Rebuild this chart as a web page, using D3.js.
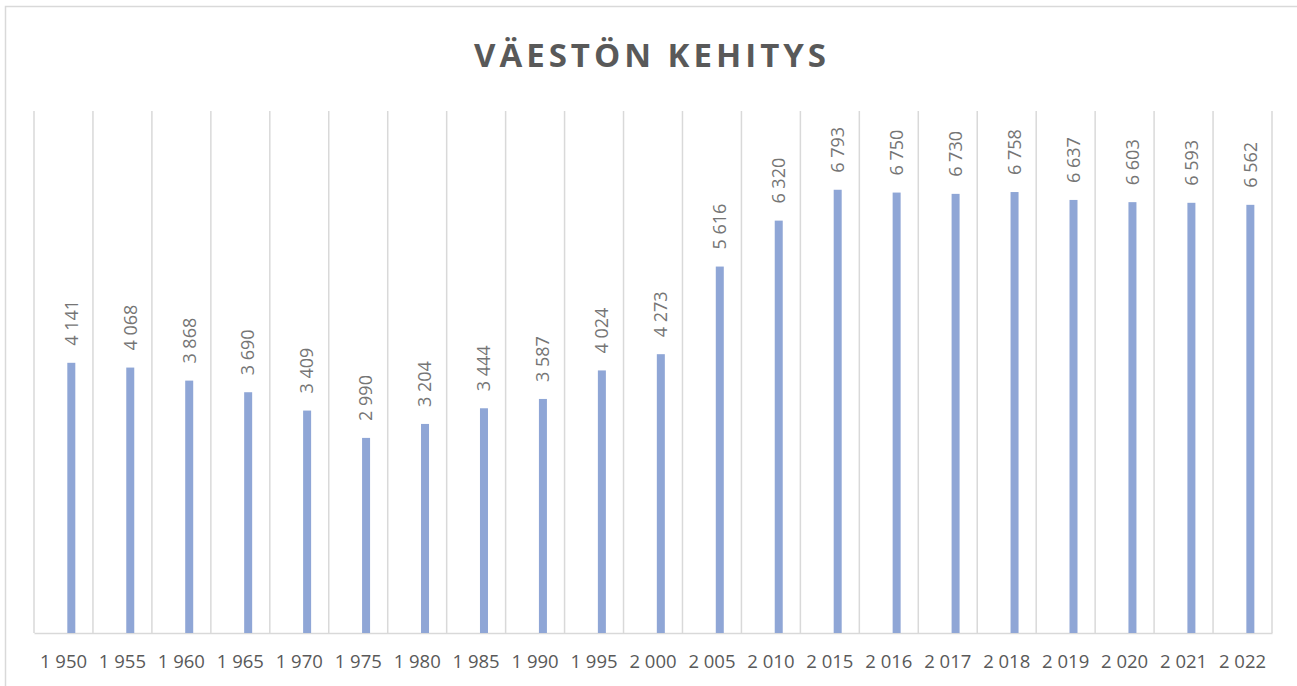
<!DOCTYPE html>
<html>
<head>
<meta charset="utf-8">
<script src="https://cdn.jsdelivr.net/npm/d3@7"></script>
<style>
  html, body { margin: 0; padding: 0; background: #fff; }
  svg { display: block; }
</style>
</head>
<body>
<svg id="chart" width="1297" height="686"></svg>
<script>
const years = ["1 950","1 955","1 960","1 965","1 970","1 975","1 980","1 985","1 990","1 995","2 000","2 005","2 010","2 015","2 016","2 017","2 018","2 019","2 020","2 021","2 022"];
const population = [4141,4068,3868,3690,3409,2990,3204,3444,3587,4024,4273,5616,6320,6793,6750,6730,6758,6637,6603,6593,6562];
const yDomain = [0, 8000];
const title = "VÄESTÖN KEHITYS";

const svg = d3.select("#chart");
const W = 1297, H = 686;
const plot = {left: 34, right: 1272, top: 111, bottom: 633};

// chart frame
svg.append("rect").attr("x", 5.5).attr("y", 6.5).attr("width", W + 10).attr("height", H + 10)
  .attr("fill", "none").attr("stroke", "#D9D9D9").attr("stroke-width", 1.5);

svg.append("text").attr("x", 652).attr("y", 67)
  .attr("text-anchor", "middle")
  .attr("font-family", "'Open Sans', sans-serif").attr("font-weight", 700)
  .attr("font-size", 33).attr("letter-spacing", 4)
  .attr("fill", "#595959").text(title);

const x = d3.scaleBand().domain(years).range([plot.left, plot.right]).paddingInner(0).paddingOuter(0);
const y = d3.scaleLinear().domain(yDomain).range([plot.bottom, plot.top]);

// vertical gridlines at band boundaries
const bounds = years.map(d => x(d)).concat([x(years[years.length - 1]) + x.bandwidth()]);
svg.append("g").selectAll("line").data(bounds).join("line")
  .attr("x1", d => d).attr("x2", d => d)
  .attr("y1", plot.top).attr("y2", plot.bottom)
  .attr("stroke", "#D9D9D9").attr("stroke-width", 1.5);

// x axis
const xAxis = svg.append("g").attr("transform", `translate(0,${plot.bottom})`)
  .call(d3.axisBottom(x).tickSize(0).tickPadding(22));
xAxis.select(".domain").attr("stroke", "#D9D9D9").attr("stroke-width", 1.5);
xAxis.selectAll("text").attr("font-family", "'Open Sans', sans-serif")
  .attr("font-size", 18.5).attr("fill", "#595959");

const barW = 8;
const barOffset = x.bandwidth() * 0.565;
const fmt = v => d3.format(",")(v).replace(/,/g, " ");

svg.append("g").selectAll("rect").data(population).join("rect")
  .attr("x", (d, i) => x(years[i]) + barOffset)
  .attr("y", d => y(d))
  .attr("width", barW)
  .attr("height", d => y(0) - y(d))
  .attr("fill", "#8FA6D6");

svg.append("g").selectAll("text").data(population).join("text")
  .attr("transform", (d, i) => `translate(${x(years[i]) + barOffset + barW / 2},${y(d) - 17}) rotate(-90)`)
  .attr("dy", "0.35em")
  .attr("text-anchor", "start")
  .attr("font-family", "'Open Sans', sans-serif")
  .attr("font-size", 18).attr("fill", "#757575")
  .text(d => fmt(d));
</script>
</body>
</html>
